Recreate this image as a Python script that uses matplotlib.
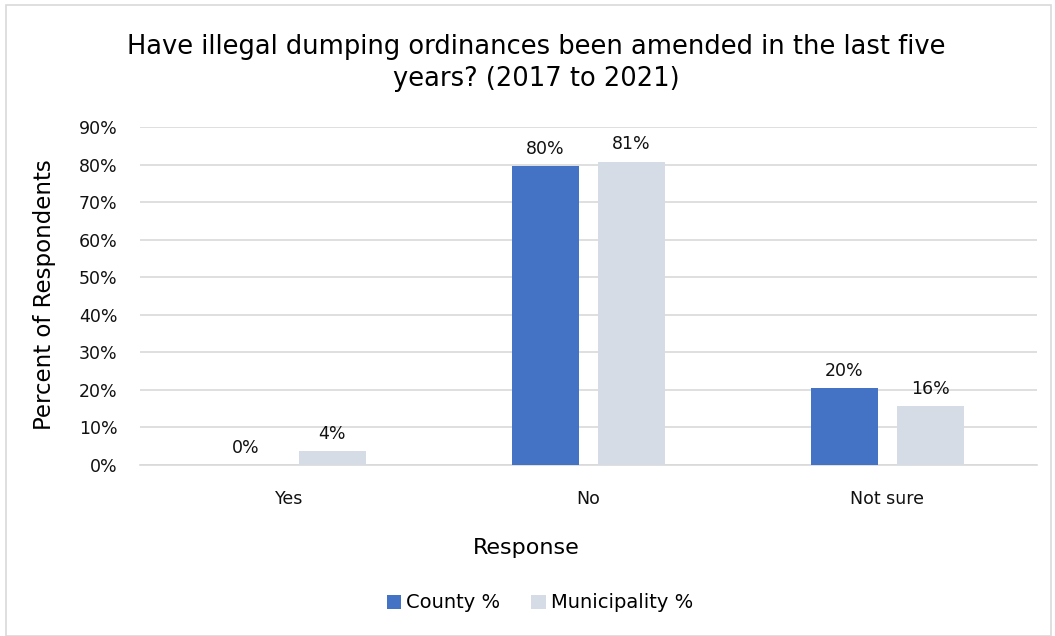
import matplotlib
matplotlib.use("Agg")
import matplotlib.pyplot as plt
import numpy as np
from matplotlib.patches import Rectangle

categories = ["Yes", "No", "Not sure"]
county = [0.0, 79.6, 20.4]
municipality = [3.7, 80.8, 15.7]
series_names = ["County %", "Municipality %"]
yticks = [0, 10, 20, 30, 40, 50, 60, 70, 80, 90]

plt.rcParams['font.family'] = ['DejaVu Sans']

fig = plt.figure(figsize=(10.55, 6.36), dpi=100)
fig.patches.append(Rectangle((0.006, 0.0), 0.99, 0.992, transform=fig.transFigure,
                             fill=False, edgecolor="#d9d9d9", linewidth=1.2))
ax = fig.add_axes([139.5 / 1055, 1 - 465 / 636, 897.5 / 1055, 338 / 636])

x = np.arange(len(categories))
w = 0.224
off = 0.144
b1 = ax.bar(x - off, county, w, color="#4472C4", label=series_names[0], zorder=3)
b2 = ax.bar(x + off, municipality, w, color="#D6DCE5", label=series_names[1], zorder=3)

for bars, vals in ((b1, county), (b2, municipality)):
    for r, v in zip(bars, vals):
        ax.text(r.get_x() + r.get_width() / 2, v + 2.2, f"{v:.0f}%", ha="center",
                va="bottom", fontsize=12.5, color="#111111")

ax.set_xlim(-0.5, 2.5)
ax.set_ylim(0, 90)
ax.set_yticks(yticks)
ax.set_yticklabels([f"{t}%" for t in yticks])
ax.set_xticks(x)
ax.set_xticklabels(categories)
ax.tick_params(axis="both", length=0, labelsize=12.5, colors="#111111")
ax.tick_params(axis="x", pad=18)
ax.tick_params(axis="y", pad=16)
ax.yaxis.grid(True, color="#d9d9d9", linewidth=1.2, zorder=0)
for s in ["top", "right", "left"]:
    ax.spines[s].set_visible(False)
ax.spines["bottom"].set_color("#d9d9d9")
ax.spines["bottom"].set_linewidth(1.2)

fig.text(45 / 1055, 1 - 295 / 636, "Percent of Respondents", rotation=90,
         ha="center", va="center", fontsize=16.5)
fig.text(526 / 1055, 1 - 548 / 636, "Response", ha="center", va="center", fontsize=16)
fig.text(0.508, 1 - 63 / 636,
         "Have illegal dumping ordinances been amended in the last five\nyears? (2017 to 2021)",
         ha="center", va="center", fontsize=18.5, linespacing=1.3)

fig.legend(handles=[b1, b2], labels=series_names, loc="center",
           bbox_to_anchor=(540 / 1055, 1 - 603 / 636),
           ncol=2, frameon=False, fontsize=14, handlelength=0.75, handleheight=0.75,
           handletextpad=0.25, columnspacing=1.6)

fig.savefig("out.png", dpi=100)
